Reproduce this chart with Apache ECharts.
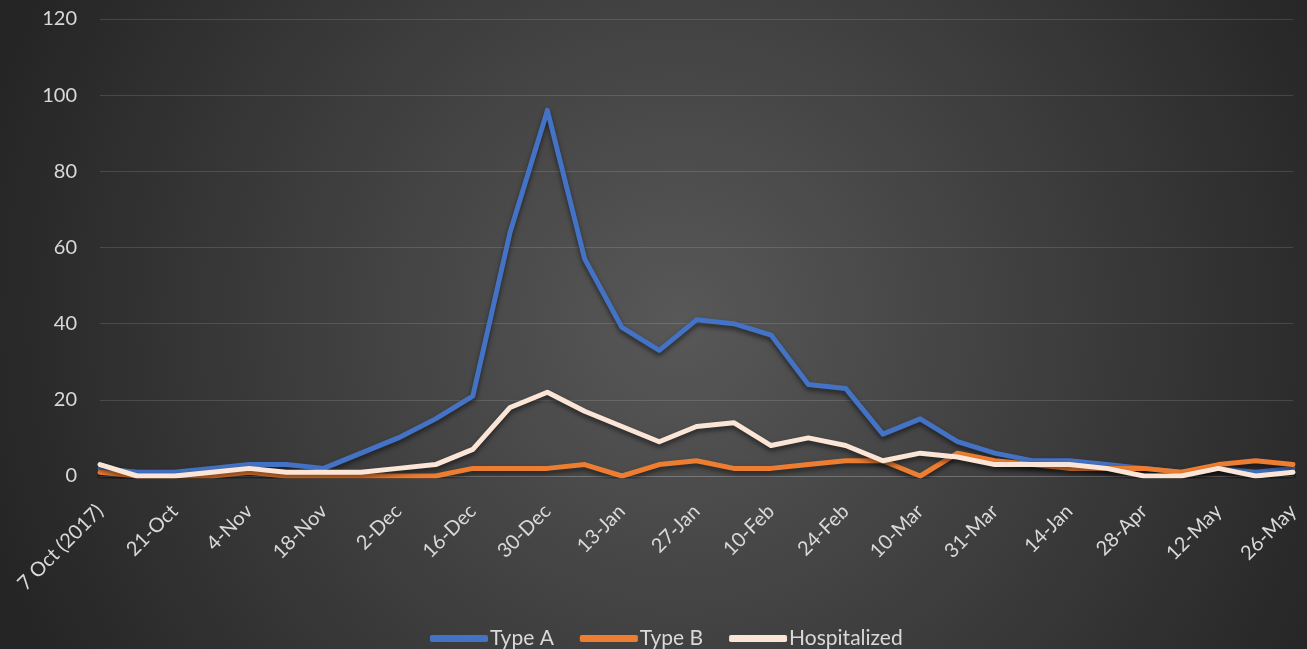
<!DOCTYPE html>
<html>
<head>
<meta charset="utf-8">
<script src="https://cdn.jsdelivr.net/npm/echarts@6/dist/echarts.min.js"></script>
<style>
  html, body { margin: 0; padding: 0; background: #2a2a2a; }
  #chart { width: 1307px; height: 649px; }
</style>
</head>
<body>
<div id="chart"></div>
<script>
// Weekly flu surveillance, season 2017-2018
const weeks = [
  '7 Oct (2017)', '14-Oct', '21-Oct', '28-Oct', '4-Nov', '11-Nov', '18-Nov', '25-Nov',
  '2-Dec', '9-Dec', '16-Dec', '23-Dec', '30-Dec', '6-Jan', '13-Jan', '20-Jan',
  '27-Jan', '3-Feb', '10-Feb', '17-Feb', '24-Feb', '3-Mar', '10-Mar', '24-Mar',
  '31-Mar', '7-Apr', '14-Jan', '21-Apr', '28-Apr', '5-May', '12-May', '19-May', '26-May'
];
const typeA = [2, 1, 1, 2, 3, 3, 2, 6, 10, 15, 21, 64, 96, 57, 39, 33,
  41, 40, 37, 24, 23, 11, 15, 9, 6, 4, 4, 3, 2, 1, 2, 1, 2];
const typeB = [1, 0, 0, 0, 1, 0, 0, 0, 0, 0, 2, 2, 2, 3, 0, 3,
  4, 2, 2, 3, 4, 4, 0, 6, 4, 3, 2, 2, 2, 1, 3, 4, 3];
const hospitalized = [3, 0, 0, 1, 2, 1, 1, 1, 2, 3, 7, 18, 22, 17, 13, 9,
  13, 14, 8, 10, 8, 4, 6, 5, 3, 3, 3, 2, 0, 0, 2, 0, 1];
const yTicks = [0, 20, 40, 60, 80, 100, 120];

const textColor = '#d9d9d9';
const fontFamily = 'Lato, "Open Sans", sans-serif';

function lineSeries(name, data, color) {
  return {
    name: name,
    type: 'line',
    data: data,
    symbol: 'none',
    smooth: false,
    lineStyle: {
      color: color,
      width: 5,
      cap: 'round',
      join: 'round',
      shadowColor: 'rgba(0,0,0,0.55)',
      shadowBlur: 5,
      shadowOffsetY: 3
    },
    itemStyle: { color: color }
  };
}

const chart = echarts.init(document.getElementById('chart'), null, { renderer: 'canvas' });
chart.setOption({
  backgroundColor: {
    type: 'radial', x: 680, y: 320, r: 720, global: true,
    colorStops: [
      { offset: 0, color: '#585858' },
      { offset: 1, color: '#252525' }
    ]
  },
  animation: false,
  grid: { left: 100, right: 14, top: 19, bottom: 173, containLabel: false },
  legend: {
    top: 623,
    left: 425,
    icon: 'roundRect',
    itemWidth: 58,
    itemHeight: 7,
    itemGap: 26,
    textStyle: { color: textColor, fontSize: 21, fontFamily: fontFamily, padding: [0, 0, 0, -3] },
    data: ['Type A', 'Type B', 'Hospitalized']
  },
  xAxis: {
    type: 'category',
    data: weeks,
    boundaryGap: false,
    axisLine: { show: true, lineStyle: { color: 'rgba(255,255,255,0.13)', width: 1 } },
    axisTick: { show: false },
    axisLabel: {
      interval: 1,
      rotate: 45,
      color: textColor,
      fontSize: 20,
      fontFamily: fontFamily,
      margin: 32
    },
    splitLine: { show: false }
  },
  yAxis: {
    type: 'value',
    min: yTicks[0],
    max: yTicks[yTicks.length - 1],
    interval: yTicks[1] - yTicks[0],
    axisLine: { show: false },
    axisTick: { show: false },
    axisLabel: { color: textColor, fontSize: 20, fontFamily: fontFamily, margin: 23 },
    splitLine: { show: true, lineStyle: { color: 'rgba(255,255,255,0.13)', width: 1 } }
  },
  series: [
    lineSeries('Type A', typeA, '#4472C4'),
    lineSeries('Type B', typeB, '#ED7D31'),
    lineSeries('Hospitalized', hospitalized, '#FBE5D6')
  ]
});
</script>
</body>
</html>
